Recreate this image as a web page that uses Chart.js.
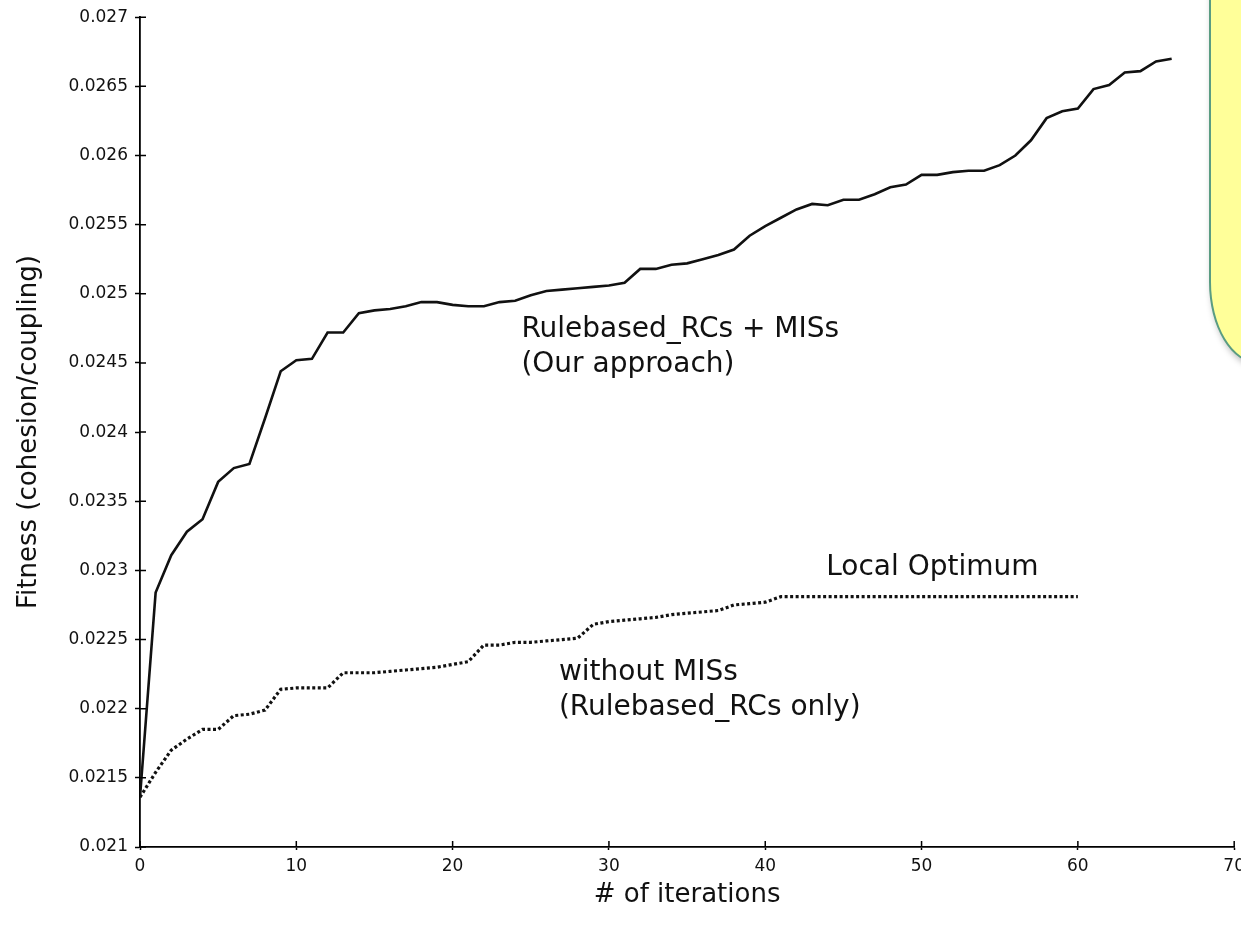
<!DOCTYPE html>
<html>
<head>
<meta charset="utf-8">
<script src="https://cdn.jsdelivr.net/npm/chart.js@4/dist/chart.umd.min.js"></script>
<style>
  html, body { margin: 0; padding: 0; background: #fff; overflow: hidden; width: 1241px; height: 935px; }
  #wrap { position: relative; width: 1241px; height: 935px; overflow: hidden; }
  #note {
    position: absolute; left: 1209px; top: -20px; width: 120px; height: 380px;
    background: #ffff99; border: 2px solid #5a9c82;
    border-bottom-left-radius: 50px 82px;
    box-shadow: 2px 4px 6px rgba(0,0,0,0.25);
  }
</style>
</head>
<body>
<div id="wrap">
  <canvas id="fit" width="1251" height="935"></canvas>
  <div id="note"></div>
</div>
<script>
// fitness per iteration
var withMis = [0.02136, 0.02284, 0.02311, 0.02328, 0.02337, 0.02364, 0.02374, 0.02377, 0.02410, 0.02444,
  0.02452, 0.02453, 0.02472, 0.02472, 0.02486, 0.02488, 0.02489, 0.02491, 0.02494, 0.02494,
  0.02492, 0.02491, 0.02491, 0.02494, 0.02495, 0.02499, 0.02502, 0.02503, 0.02504, 0.02505,
  0.02506, 0.02508, 0.02518, 0.02518, 0.02521, 0.02522, 0.02525, 0.02528, 0.02532, 0.02542,
  0.02549, 0.02555, 0.02561, 0.02565, 0.02564, 0.02568, 0.02568, 0.02572, 0.02577, 0.02579,
  0.02586, 0.02586, 0.02588, 0.02589, 0.02589, 0.02593, 0.02600, 0.02611, 0.02627, 0.02632,
  0.02634, 0.02648, 0.02651, 0.02660, 0.02661, 0.02668, 0.02670];

var withoutMis = [0.02136, 0.02154, 0.02170, 0.02178, 0.02185, 0.02185, 0.02195, 0.02196, 0.02199, 0.02214,
  0.02215, 0.02215, 0.02215, 0.02226, 0.02226, 0.02226, 0.02227, 0.02228, 0.02229, 0.02230,
  0.02232, 0.02234, 0.02246, 0.02246, 0.02248, 0.02248, 0.02249, 0.02250, 0.02251, 0.02261,
  0.02263, 0.02264, 0.02265, 0.02266, 0.02268, 0.02269, 0.02270, 0.02271, 0.02275, 0.02276,
  0.02277, 0.02281, 0.02281, 0.02281, 0.02281, 0.02281, 0.02281, 0.02281, 0.02281, 0.02281,
  0.02281, 0.02281, 0.02281, 0.02281, 0.02281, 0.02281, 0.02281, 0.02281, 0.02281, 0.02281,
  0.02281];

var xTicks = [0, 10, 20, 30, 40, 50, 60, 70];
var yTicks = [0.021, 0.0215, 0.022, 0.0225, 0.023, 0.0235, 0.024, 0.0245, 0.025, 0.0255, 0.026, 0.0265, 0.027];

// text notes placed in data units
var notes = [
  { lines: ['Rulebased_RCs + MISs', '(Our approach)'], x: 24.4, y: 0.02469 },
  { lines: ['Local Optimum'], x: 43.9, y: 0.02297 },
  { lines: ['without MISs', '(Rulebased_RCs only)'], x: 26.8, y: 0.02221 }
];

var FONT = '"DejaVu Sans", sans-serif';

function points(arr) {
  return arr.map(function (v, i) { return { x: i, y: v }; });
}

var innerTicks = {
  id: 'innerTicks',
  afterDraw: function (chart) {
    var c = chart.ctx, xs = chart.scales.x, ys = chart.scales.y, a = chart.chartArea;
    c.save();
    c.strokeStyle = '#000';
    c.lineWidth = 1.5;
    c.beginPath();
    xTicks.forEach(function (t) {
      var px = xs.getPixelForValue(t);
      c.moveTo(px, a.bottom); c.lineTo(px, a.bottom - 6);
    });
    yTicks.forEach(function (t) {
      var py = ys.getPixelForValue(t);
      c.moveTo(a.left, py); c.lineTo(a.left + 6, py);
    });
    c.stroke();

    c.fillStyle = '#111';
    c.font = '28px ' + FONT;
    c.textBaseline = 'alphabetic';
    notes.forEach(function (n) {
      var px = xs.getPixelForValue(n.x), py = ys.getPixelForValue(n.y);
      n.lines.forEach(function (s, k) { c.fillText(s, px, py + k * 35); });
    });
    c.restore();
  }
};

var ctx = document.getElementById('fit').getContext('2d');
var chart = new Chart(ctx, {
  type: 'line',
  data: {
    datasets: [{
      label: 'Rulebased_RCs + MISs',
      data: points(withMis),
      borderColor: '#111',
      borderWidth: 2.6,
      pointRadius: 0,
      tension: 0
    }, {
      label: 'without MISs',
      data: points(withoutMis),
      borderColor: '#111',
      borderWidth: 3.2,
      borderDash: [3, 2.5],
      borderCapStyle: 'butt',
      pointRadius: 0,
      tension: 0
    }]
  },
  options: {
    responsive: false,
    animation: false,
    layout: { padding: { top: 14, left: 0, right: 0, bottom: 0 } },
    plugins: { legend: { display: false }, tooltip: { enabled: false } },
    scales: {
      x: {
        type: 'linear',
        min: 0, max: 70,
        afterBuildTicks: function (s) { s.ticks = xTicks.map(function (v) { return { value: v }; }); },
        afterFit: function (s) { s.height = 88; },
        border: { color: '#000', width: 1.8 },
        grid: { drawOnChartArea: false, color: '#000', tickLength: 3, tickWidth: 1.5 },
        ticks: { color: '#111', font: { family: FONT, size: 17 }, padding: 6, maxRotation: 0 },
        title: { display: true, text: '# of iterations', color: '#111', font: { family: FONT, size: 26 }, padding: { top: 24, bottom: 24 } }
      },
      y: {
        min: 0.021, max: 0.027,
        afterBuildTicks: function (s) { s.ticks = yTicks.map(function (v) { return { value: v }; }); },
        afterFit: function (s) { s.width = 140; },
        border: { color: '#000', width: 1.8 },
        grid: { drawOnChartArea: false, color: '#000', tickLength: 5, tickWidth: 1.5 },
        ticks: {
          color: '#111', font: { family: FONT, size: 17 }, padding: 7,
          callback: function (v) { return String(parseFloat(v.toFixed(4))); }
        },
        title: { display: true, text: 'Fitness (cohesion/coupling)', color: '#111', font: { family: FONT, size: 26 }, padding: { top: 14, bottom: 0 } }
      }
    }
  },
  plugins: [innerTicks]
});
</script>
</body>
</html>
